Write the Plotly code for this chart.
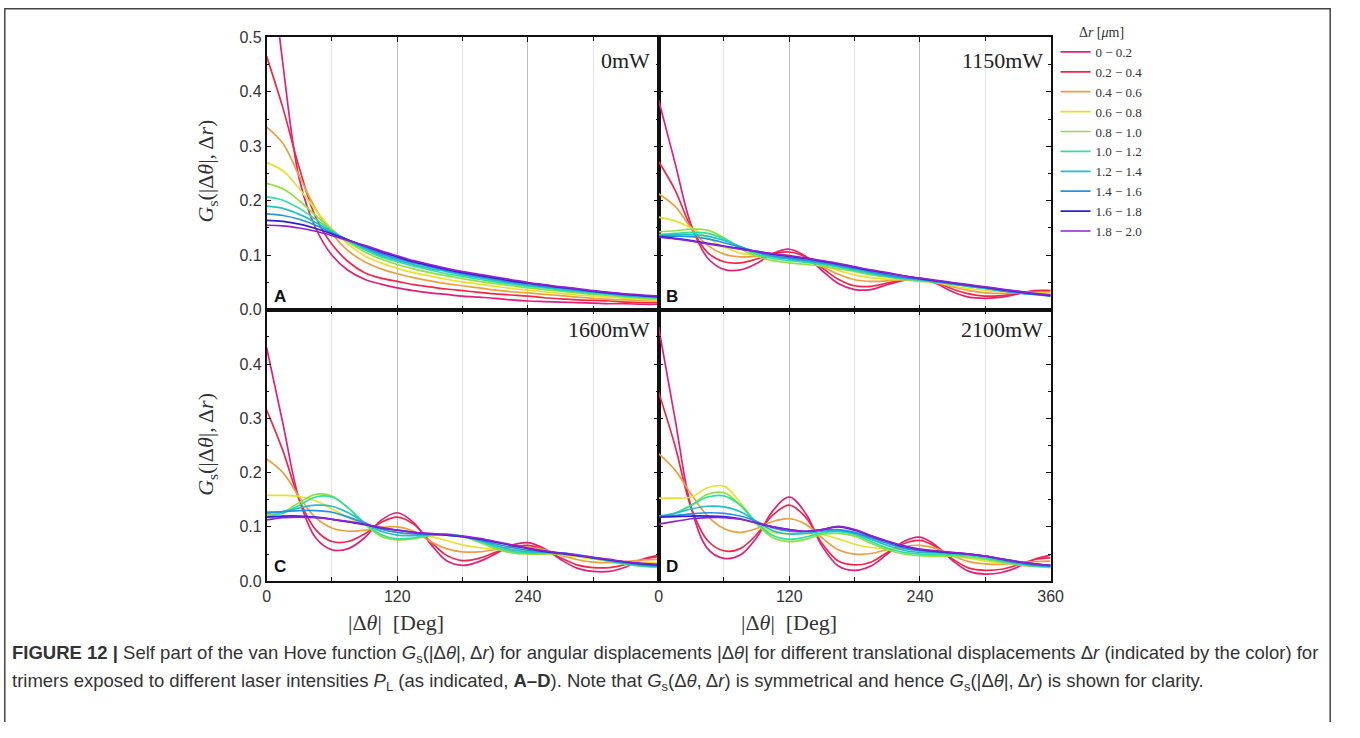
import plotly.graph_objects as go

angles = [0, 15, 30, 45, 60, 75, 90, 105, 120, 135, 150, 165, 180, 195, 210, 225, 240, 255, 270, 285, 300, 315, 330, 345, 360]

dr_labels = ["0 \u2212 0.2", "0.2 \u2212 0.4", "0.4 \u2212 0.6", "0.6 \u2212 0.8", "0.8 \u2212 1.0",
             "1.0 \u2212 1.2", "1.2 \u2212 1.4", "1.4 \u2212 1.6", "1.6 \u2212 1.8", "1.8 \u2212 2.0"]
colors = ['#e0207a', '#f02848', '#eba040', '#e8e030', '#90e040', '#30e0a0', '#20c0c8', '#2890e0', '#3020d0', '#9020d0']

panel_letters = ["A", "B", "C", "D"]
powers = ["0mW", "1150mW", "1600mW", "2100mW"]

# Panel A: 0 mW
g_0mW = [
    [0.72, 0.45, 0.24, 0.15, 0.10, 0.072, 0.056, 0.047, 0.040, 0.035, 0.031, 0.028, 0.025, 0.023, 0.021, 0.018, 0.016, 0.015, 0.014, 0.013, 0.012, 0.011, 0.011, 0.010, 0.010],
    [0.465, 0.37, 0.26, 0.17, 0.12, 0.088, 0.068, 0.058, 0.052, 0.046, 0.042, 0.038, 0.035, 0.032, 0.029, 0.027, 0.025, 0.022, 0.020, 0.018, 0.017, 0.016, 0.014, 0.013, 0.013],
    [0.335, 0.305, 0.245, 0.185, 0.14, 0.108, 0.088, 0.075, 0.066, 0.059, 0.053, 0.048, 0.044, 0.040, 0.036, 0.033, 0.031, 0.028, 0.026, 0.023, 0.021, 0.019, 0.018, 0.017, 0.016],
    [0.27, 0.255, 0.222, 0.183, 0.148, 0.12, 0.099, 0.086, 0.076, 0.068, 0.062, 0.056, 0.051, 0.047, 0.043, 0.039, 0.036, 0.033, 0.030, 0.027, 0.025, 0.023, 0.021, 0.019, 0.018],
    [0.232, 0.222, 0.20, 0.173, 0.147, 0.124, 0.106, 0.093, 0.083, 0.075, 0.068, 0.062, 0.057, 0.052, 0.048, 0.044, 0.040, 0.037, 0.034, 0.031, 0.028, 0.026, 0.023, 0.021, 0.020],
    [0.207, 0.201, 0.186, 0.166, 0.145, 0.126, 0.11, 0.097, 0.088, 0.080, 0.073, 0.066, 0.061, 0.056, 0.051, 0.047, 0.043, 0.040, 0.036, 0.033, 0.030, 0.028, 0.025, 0.023, 0.021],
    [0.19, 0.186, 0.175, 0.16, 0.143, 0.127, 0.113, 0.10, 0.091, 0.083, 0.076, 0.070, 0.064, 0.059, 0.054, 0.049, 0.045, 0.042, 0.038, 0.035, 0.032, 0.029, 0.026, 0.024, 0.022],
    [0.176, 0.173, 0.166, 0.155, 0.141, 0.128, 0.115, 0.103, 0.094, 0.086, 0.079, 0.072, 0.066, 0.061, 0.056, 0.051, 0.047, 0.043, 0.040, 0.036, 0.033, 0.030, 0.027, 0.025, 0.023],
    [0.164, 0.162, 0.157, 0.149, 0.139, 0.128, 0.117, 0.106, 0.097, 0.088, 0.081, 0.074, 0.068, 0.063, 0.058, 0.053, 0.049, 0.045, 0.041, 0.038, 0.034, 0.031, 0.028, 0.026, 0.024],
    [0.155, 0.154, 0.15, 0.144, 0.136, 0.127, 0.118, 0.108, 0.099, 0.090, 0.083, 0.076, 0.070, 0.065, 0.060, 0.055, 0.050, 0.046, 0.042, 0.039, 0.035, 0.032, 0.029, 0.027, 0.025],
]

# Panel B: 1150 mW
g_1150mW = [
    [0.385, 0.27, 0.155, 0.095, 0.074, 0.073, 0.085, 0.103, 0.111, 0.098, 0.072, 0.048, 0.037, 0.037, 0.046, 0.054, 0.058, 0.048, 0.033, 0.023, 0.021, 0.023, 0.029, 0.035, 0.035],
    [0.272, 0.22, 0.15, 0.105, 0.088, 0.086, 0.093, 0.103, 0.106, 0.097, 0.077, 0.056, 0.044, 0.043, 0.049, 0.055, 0.057, 0.050, 0.038, 0.029, 0.025, 0.026, 0.030, 0.034, 0.035],
    [0.213, 0.19, 0.15, 0.118, 0.102, 0.097, 0.098, 0.100, 0.100, 0.093, 0.080, 0.065, 0.055, 0.052, 0.053, 0.056, 0.056, 0.050, 0.042, 0.035, 0.031, 0.030, 0.031, 0.032, 0.032],
    [0.17, 0.163, 0.15, 0.132, 0.115, 0.104, 0.100, 0.098, 0.095, 0.090, 0.082, 0.072, 0.064, 0.059, 0.056, 0.055, 0.054, 0.050, 0.044, 0.039, 0.035, 0.033, 0.032, 0.031, 0.030],
    [0.143, 0.145, 0.148, 0.146, 0.132, 0.112, 0.098, 0.090, 0.086, 0.083, 0.080, 0.075, 0.070, 0.064, 0.060, 0.055, 0.052, 0.050, 0.047, 0.043, 0.039, 0.035, 0.032, 0.030, 0.028],
    [0.138, 0.14, 0.142, 0.14, 0.13, 0.115, 0.102, 0.094, 0.090, 0.087, 0.083, 0.078, 0.072, 0.066, 0.061, 0.057, 0.054, 0.051, 0.047, 0.043, 0.039, 0.035, 0.032, 0.029, 0.027],
    [0.136, 0.138, 0.138, 0.135, 0.127, 0.116, 0.105, 0.097, 0.093, 0.089, 0.085, 0.080, 0.074, 0.068, 0.062, 0.058, 0.055, 0.051, 0.047, 0.043, 0.039, 0.035, 0.031, 0.028, 0.026],
    [0.135, 0.135, 0.134, 0.13, 0.123, 0.115, 0.106, 0.099, 0.095, 0.091, 0.087, 0.082, 0.076, 0.070, 0.064, 0.059, 0.056, 0.052, 0.048, 0.044, 0.040, 0.035, 0.031, 0.028, 0.025],
    [0.134, 0.131, 0.127, 0.122, 0.117, 0.112, 0.107, 0.102, 0.098, 0.094, 0.089, 0.084, 0.078, 0.072, 0.067, 0.062, 0.057, 0.053, 0.049, 0.045, 0.041, 0.037, 0.033, 0.029, 0.026],
    [0.133, 0.13, 0.126, 0.121, 0.116, 0.111, 0.107, 0.103, 0.099, 0.095, 0.090, 0.085, 0.079, 0.073, 0.068, 0.062, 0.058, 0.054, 0.050, 0.046, 0.042, 0.038, 0.034, 0.030, 0.027],
]

# Panel C: 1600 mW
g_1600mW = [
    [0.43, 0.29, 0.15, 0.08, 0.058, 0.06, 0.08, 0.112, 0.126, 0.108, 0.07, 0.038, 0.029, 0.036, 0.05, 0.066, 0.071, 0.06, 0.04, 0.024, 0.018, 0.018, 0.026, 0.04, 0.048],
    [0.315, 0.24, 0.15, 0.095, 0.073, 0.073, 0.087, 0.108, 0.118, 0.105, 0.074, 0.048, 0.038, 0.042, 0.053, 0.063, 0.066, 0.058, 0.043, 0.03, 0.025, 0.025, 0.031, 0.04, 0.045],
    [0.225, 0.2, 0.155, 0.117, 0.098, 0.092, 0.094, 0.099, 0.1, 0.092, 0.074, 0.06, 0.054, 0.054, 0.058, 0.062, 0.063, 0.058, 0.048, 0.04, 0.035, 0.034, 0.036, 0.039, 0.04],
    [0.158, 0.158, 0.156, 0.148, 0.133, 0.117, 0.104, 0.097, 0.094, 0.09, 0.083, 0.075, 0.067, 0.062, 0.059, 0.057, 0.056, 0.053, 0.049, 0.045, 0.041, 0.038, 0.036, 0.035, 0.034],
    [0.122, 0.127, 0.145, 0.16, 0.157, 0.135, 0.105, 0.083, 0.076, 0.078, 0.084, 0.086, 0.082, 0.072, 0.06, 0.052, 0.05, 0.05, 0.05, 0.047, 0.042, 0.036, 0.031, 0.027, 0.025],
    [0.12, 0.125, 0.14, 0.155, 0.155, 0.135, 0.107, 0.086, 0.078, 0.08, 0.085, 0.087, 0.083, 0.074, 0.063, 0.055, 0.052, 0.052, 0.051, 0.048, 0.043, 0.037, 0.032, 0.028, 0.026],
    [0.125, 0.128, 0.135, 0.14, 0.138, 0.126, 0.108, 0.092, 0.085, 0.084, 0.086, 0.086, 0.082, 0.075, 0.066, 0.058, 0.054, 0.053, 0.052, 0.049, 0.044, 0.038, 0.033, 0.029, 0.027],
    [0.127, 0.128, 0.13, 0.13, 0.127, 0.118, 0.107, 0.096, 0.09, 0.087, 0.086, 0.085, 0.082, 0.076, 0.069, 0.062, 0.057, 0.054, 0.052, 0.048, 0.043, 0.038, 0.034, 0.03, 0.028],
    [0.118, 0.12, 0.12, 0.118, 0.114, 0.109, 0.104, 0.098, 0.094, 0.09, 0.087, 0.085, 0.082, 0.078, 0.072, 0.066, 0.06, 0.055, 0.051, 0.047, 0.043, 0.039, 0.035, 0.032, 0.03],
    [0.113, 0.117, 0.118, 0.117, 0.114, 0.11, 0.105, 0.099, 0.094, 0.09, 0.088, 0.086, 0.083, 0.079, 0.073, 0.067, 0.061, 0.056, 0.052, 0.048, 0.044, 0.04, 0.036, 0.033, 0.031],
]

# Panel D: 2100 mW
g_2100mW = [
    [0.468, 0.3, 0.135, 0.06, 0.042, 0.048, 0.08, 0.13, 0.155, 0.125, 0.065, 0.028, 0.02, 0.028, 0.05, 0.073, 0.081, 0.065, 0.038, 0.018, 0.013, 0.016, 0.026, 0.04, 0.048],
    [0.348, 0.25, 0.135, 0.075, 0.056, 0.06, 0.086, 0.122, 0.14, 0.118, 0.07, 0.037, 0.03, 0.035, 0.053, 0.069, 0.075, 0.063, 0.041, 0.024, 0.02, 0.022, 0.03, 0.04, 0.043],
    [0.235, 0.205, 0.16, 0.12, 0.097, 0.09, 0.097, 0.11, 0.115, 0.105, 0.08, 0.058, 0.05, 0.051, 0.058, 0.064, 0.066, 0.06, 0.047, 0.036, 0.032, 0.031, 0.033, 0.036, 0.037],
    [0.153, 0.153, 0.155, 0.172, 0.175, 0.145, 0.108, 0.09, 0.087, 0.088, 0.086, 0.078, 0.068, 0.062, 0.06, 0.059, 0.058, 0.054, 0.048, 0.042, 0.037, 0.034, 0.032, 0.031, 0.03],
    [0.12, 0.125, 0.14, 0.16, 0.163, 0.14, 0.105, 0.08, 0.073, 0.077, 0.086, 0.088, 0.083, 0.07, 0.058, 0.05, 0.047, 0.046, 0.046, 0.044, 0.04, 0.035, 0.03, 0.027, 0.025],
    [0.118, 0.125, 0.14, 0.155, 0.157, 0.14, 0.108, 0.084, 0.077, 0.081, 0.089, 0.091, 0.086, 0.073, 0.061, 0.053, 0.05, 0.049, 0.049, 0.047, 0.043, 0.037, 0.032, 0.028, 0.026],
    [0.12, 0.125, 0.133, 0.138, 0.137, 0.128, 0.11, 0.093, 0.087, 0.088, 0.092, 0.093, 0.088, 0.077, 0.066, 0.057, 0.053, 0.052, 0.051, 0.049, 0.045, 0.039, 0.033, 0.029, 0.027],
    [0.12, 0.121, 0.124, 0.126, 0.125, 0.12, 0.11, 0.098, 0.092, 0.091, 0.094, 0.095, 0.09, 0.08, 0.07, 0.061, 0.056, 0.054, 0.052, 0.05, 0.046, 0.04, 0.034, 0.03, 0.028],
    [0.118, 0.119, 0.12, 0.12, 0.119, 0.115, 0.107, 0.1, 0.095, 0.092, 0.095, 0.1, 0.094, 0.083, 0.073, 0.064, 0.058, 0.055, 0.052, 0.05, 0.046, 0.041, 0.036, 0.032, 0.029],
    [0.105, 0.11, 0.115, 0.117, 0.117, 0.114, 0.107, 0.1, 0.095, 0.092, 0.095, 0.101, 0.095, 0.084, 0.074, 0.065, 0.059, 0.056, 0.053, 0.05, 0.046, 0.041, 0.036, 0.032, 0.029],
]

panels = [g_0mW, g_1150mW, g_1600mW, g_2100mW]

# The page keeps the browser's default 8px body margin, so the figure is
# sized to fit exactly inside the 1360x738 window.
OFF = 8
W, H = 1360 - 2 * OFF, 738 - 2 * OFF
def px(x):
    return (x - OFF) / W
def py(y):
    return 1 - (y - OFF) / H

x_doms = [[px(274), px(671)], [px(671), px(1068)], [px(274), px(671)], [px(671), px(1068)]]
y_doms = [[py(317), py(38)], [py(317), py(38)], [py(595), py(317)], [py(595), py(317)]]

fig = go.Figure()
for p, data in enumerate(panels):
    xa = 'x' if p == 0 else f'x{p+1}'
    ya = 'y' if p == 0 else f'y{p+1}'
    for i, vals in enumerate(data):
        fig.add_trace(go.Scatter(
            x=angles, y=vals, mode='lines', name=dr_labels[i],
            line=dict(color=colors[i], width=1.7, shape='spline', smoothing=1.0),
            xaxis=xa, yaxis=ya, showlegend=(p == 0), legendrank=i,
            cliponaxis=True))

serif = 'Liberation Serif, DejaVu Serif, serif'
tick_font = dict(family='Liberation Sans, Arial, sans-serif', size=16, color='#333')
layout = dict(
    width=W, height=H, autosize=False,
    margin=dict(l=0, r=0, t=0, b=0),
    paper_bgcolor='white', plot_bgcolor='white',
    showlegend=True,
    legend=dict(x=px(1073), y=py(19), xanchor='left', yanchor='top',
                bgcolor='rgba(0,0,0,0)', borderwidth=0,
                font=dict(family=serif, size=13, color='#333'),
                title=dict(text='\u0394<i>r</i> [<i>\u03bc</i>m]', side='top center',
                           font=dict(family=serif, size=14, color='#333')),
                tracegroupgap=0, itemwidth=30, traceorder='normal'),
)

for p in range(4):
    xkey = 'xaxis' if p == 0 else f'xaxis{p+1}'
    ykey = 'yaxis' if p == 0 else f'yaxis{p+1}'
    ya_ref = 'y' if p == 0 else f'y{p+1}'
    xa_ref = 'x' if p == 0 else f'x{p+1}'
    bottom = p >= 2
    if p == 2:
        xt = dict(tickvals=[0, 120, 240, 360], ticktext=['0', '120', '240', ''])
    else:
        xt = dict(tickvals=[0, 120, 240, 360], ticktext=['0', '120', '240', '360'])
    layout[xkey] = dict(
        domain=x_doms[p], anchor=ya_ref, range=[0, 360],
        showline=True, linecolor='#111', linewidth=1.6, mirror='ticks',
        ticks='inside', ticklen=5, tickcolor='#111', tickwidth=1.2,
        showgrid=True, gridcolor='#bdbdbd', gridwidth=1.2, zeroline=False,
        minor=dict(tickvals=[60, 180, 300], ticks='inside', ticklen=4, tickcolor='#111',
                   showgrid=True, gridcolor='#e4e4e4', gridwidth=1.2),
        showticklabels=bottom, tickfont=tick_font, **xt)
    if p == 0:
        yt = dict(tickvals=[0, 0.1, 0.2, 0.3, 0.4, 0.5], ticktext=['0.0', '0.1', '0.2', '0.3', '0.4', '0.5'])
    else:
        yt = dict(tickvals=[0, 0.1, 0.2, 0.3, 0.4, 0.5], ticktext=['0.0', '0.1', '0.2', '0.3', '0.4', ''])
    layout[ykey] = dict(
        domain=y_doms[p], anchor=xa_ref, range=[0, 0.5],
        showline=True, linecolor='#111', linewidth=1.6, mirror='ticks',
        ticks='inside', ticklen=5, tickcolor='#111', tickwidth=1.2,
        showgrid=False, zeroline=False,
        minor=dict(tickvals=[0.05, 0.15, 0.25, 0.35, 0.45], ticks='inside', ticklen=3, tickcolor='#111'),
        showticklabels=(p % 2 == 0), tickfont=tick_font, **yt)

fig.update_layout(**layout)

ann = []
pow_pos = [(664, 62), (1062, 62), (664, 337), (1062, 337)]
for (xx, yy), t in zip(pow_pos, powers):
    ann.append(dict(x=px(xx), y=py(yy), xref='paper', yref='paper', text=t, showarrow=False,
                    xanchor='right', yanchor='middle', font=dict(family=serif, size=22, color='#222')))
let_pos = [(279, 303), (676, 303), (279, 580), (676, 580)]
for (xx, yy), t in zip(let_pos, panel_letters):
    ann.append(dict(x=px(xx), y=py(yy), xref='paper', yref='paper', text='<b>' + t + '</b>', showarrow=False,
                    xanchor='left', yanchor='middle', font=dict(family='Liberation Sans, Arial, sans-serif', size=17, color='#111')))
ytitle = '<i>G</i><sub>s</sub>(|\u0394<i>\u03b8</i>|, \u0394<i>r</i>)'
for yy in (175, 455):
    ann.append(dict(x=px(214), y=py(yy), xref='paper', yref='paper', text=ytitle, showarrow=False,
                    textangle=-90, xanchor='center', yanchor='middle', font=dict(family=serif, size=22, color='#333')))
xtitle = '|\u0394<i>\u03b8</i>|  [Deg]'
for xx in (405, 803):
    ann.append(dict(x=px(xx), y=py(637), xref='paper', yref='paper', text=xtitle, showarrow=False,
                    xanchor='center', yanchor='middle', font=dict(family=serif, size=22, color='#333')))
cap_font = dict(family='Liberation Sans, Arial, sans-serif', size=18.5, color='#333')
line1 = ('<b>FIGURE 12 |</b> Self part of the van Hove function <i>G</i><sub>s</sub>(|\u0394<i>\u03b8</i>|, \u0394<i>r</i>) '
         'for angular displacements |\u0394<i>\u03b8</i>| for different translational displacements \u0394<i>r</i> '
         '(indicated by the color) for')
line2 = ('trimers exposed to different laser intensities <i>P</i><sub>L</sub> (as indicated, <b>A\u2013D</b>). '
         'Note that <i>G</i><sub>s</sub>(\u0394<i>\u03b8</i>, \u0394<i>r</i>) is symmetrical and hence '
         '<i>G</i><sub>s</sub>(|\u0394<i>\u03b8</i>|, \u0394<i>r</i>) is shown for clarity.')
ann.append(dict(x=px(14), y=py(670), xref='paper', yref='paper', text=line1, showarrow=False,
                xanchor='left', yanchor='middle', font=cap_font))
ann.append(dict(x=px(14), y=py(698), xref='paper', yref='paper', text=line2, showarrow=False,
                xanchor='left', yanchor='middle', font=cap_font))
fig.update_layout(annotations=ann)

# outer frame (its left/right/top edges sit at the edge of the figure area)
fig.add_shape(type='rect', xref='paper', yref='paper', x0=0.0006, x1=0.9994, y0=-0.02, y1=0.999,
              line=dict(color='#444', width=1.5), fillcolor='rgba(0,0,0,0)')

fig.write_html("out.html")
